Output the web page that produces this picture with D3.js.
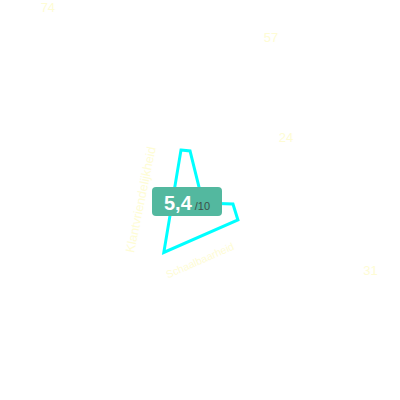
<!DOCTYPE html>
<html>
<head>
<meta charset="utf-8">
<script src="https://cdn.jsdelivr.net/npm/d3@7"></script>
<style>
  html, body { margin: 0; padding: 0; background: #fff; }
  svg { display: block; font-family: "Liberation Sans", Arial, sans-serif; }
</style>
</head>
<body>
<div id="chart"></div>
<script>
// data
var axisAngles = [353.4, 3.4, 93.6, 92.5, 109.4, 204.7];   // degrees, clockwise from top
var axisValues = [5.23, 5.11, 1.6, 4.6, 5.4, 5.55];
var score = "5,4";
var scoreMax = "/10";

var numberLabels = ["74", "57", "24", "31"];
var numberAngles = [324.4, 27.0, 57.1, 110.5];
var numberRadii = [23.9, 18.5, 11.8, 19.6];

var edgeLabels = ["Klantvriendelijkheid", "Schaalbaarheid"];
var edgeAngles = [273, 167.5];
var edgeRadii = [4.6, 5.95];
var edgeRotate = [-78.3, -23.7];

var width = 400, height = 400;
var cx = 187, cy = 202;

var svg = d3.select("#chart").append("svg")
    .attr("width", width)
    .attr("height", height);

var g = svg.append("g").attr("transform", "translate(" + cx + "," + cy + ")");

// radius scale
var r = d3.scaleLinear().domain([0, 10]).range([0, 100]);
var toRad = function(a) { return a * Math.PI / 180; };
function px(a, v) { return r(v) * Math.sin(toRad(a)); }
function py(a, v) { return -r(v) * Math.cos(toRad(a)); }

var points = axisAngles.map(function(a, i) { return {a: a, v: axisValues[i]}; });

var radial = d3.lineRadial()
    .angle(function(d) { return toRad(d.a); })
    .radius(function(d) { return r(d.v); })
    .curve(d3.curveLinearClosed);

g.append("path")
    .attr("d", radial(points))
    .attr("fill", "none")
    .attr("stroke", "#00ffff")
    .attr("stroke-width", 3)
    .attr("stroke-linejoin", "miter");

// faint labels
var labelColor = "#fefcd4";

numberLabels.forEach(function(t, i) {
    g.append("text")
        .attr("x", px(numberAngles[i], numberRadii[i]))
        .attr("y", py(numberAngles[i], numberRadii[i]))
        .attr("text-anchor", "middle")
        .attr("dominant-baseline", "central")
        .attr("font-size", 13)
        .attr("fill", labelColor)
        .text(t);
});

var edgeSizes = [12.5, 10.5];
edgeLabels.forEach(function(t, i) {
    var x = px(edgeAngles[i], edgeRadii[i]), y = py(edgeAngles[i], edgeRadii[i]);
    g.append("text")
        .attr("transform", "translate(" + x + "," + y + ") rotate(" + edgeRotate[i] + ")")
        .attr("text-anchor", "middle")
        .attr("dominant-baseline", "central")
        .attr("font-size", edgeSizes[i])
        .attr("fill", labelColor)
        .text(t);
});

// score badge
var badge = svg.append("g").attr("transform", "translate(" + cx + "," + cy + ")");
badge.append("rect")
    .attr("x", -35).attr("y", -15)
    .attr("width", 70).attr("height", 29)
    .attr("rx", 4)
    .attr("fill", "#53b89f");

var t = badge.append("text")
    .attr("x", 0).attr("y", 7.5)
    .attr("text-anchor", "middle");
t.append("tspan")
    .attr("font-size", 20)
    .attr("font-weight", "bold")
    .attr("fill", "#fff")
    .text(score);
t.append("tspan")
    .attr("dx", 3)
    .attr("font-size", 11)
    .attr("fill", "#3d4f49")
    .text(scoreMax);
</script>
</body>
</html>
